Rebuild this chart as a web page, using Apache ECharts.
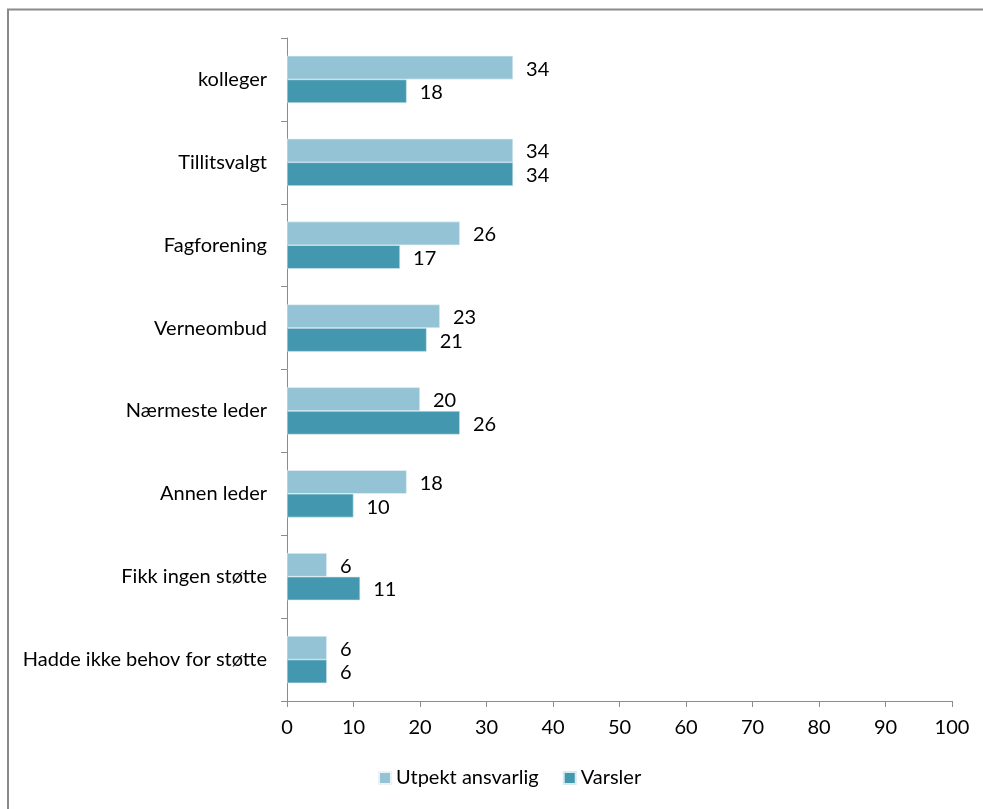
<!DOCTYPE html>
<html>
<head>
<meta charset="utf-8">
<script src="https://cdn.jsdelivr.net/npm/echarts@6/dist/echarts.min.js"></script>
<style>
  html, body { margin: 0; padding: 0; background: #fff; }
  #chart { width: 983px; height: 809px; }
</style>
</head>
<body>
<div id="chart"></div>
<script>
// Support sources, top to bottom
const categories = [
  'kolleger',
  'Tillitsvalgt',
  'Fagforening',
  'Verneombud',
  'Nærmeste leder',
  'Annen leder',
  'Fikk ingen støtte',
  'Hadde ikke behov for støtte'
];
const utpektAnsvarlig = [34, 34, 26, 23, 20, 18, 6, 6];
const varsler = [18, 34, 17, 21, 26, 10, 11, 6];
const seriesNames = ['Utpekt ansvarlig', 'Varsler'];
const xTicks = { min: 0, max: 100, interval: 10 };

const FONT = 'Lato, "Open Sans", sans-serif';
const FS = 20;
const AXIS_GRAY = '#8c8c8c';
const colors = ['#93C3D5', '#4398AF'];

const chart = echarts.init(document.getElementById('chart'), null, { renderer: 'canvas' });

const barLabel = {
  show: true,
  position: 'right',
  distance: 13,
  offset: [0, 1.5],
  color: '#000',
  fontFamily: FONT,
  fontSize: FS
};

chart.setOption({
  animation: false,
  color: colors,
  textStyle: { fontFamily: FONT },
  grid: { left: 287, right: 31, top: 38, bottom: 108, containLabel: false },
  legend: {
    bottom: 16,
    left: 373,
    itemWidth: 12,
    itemHeight: 12,
    itemGap: 24,
    icon: 'rect',
    textStyle: { fontFamily: FONT, fontSize: FS, color: '#000' },
    data: seriesNames
  },
  xAxis: {
    type: 'value',
    min: xTicks.min,
    max: xTicks.max,
    interval: xTicks.interval,
    splitLine: { show: false },
    axisLine: { show: true, lineStyle: { color: AXIS_GRAY, width: 1 } },
    axisTick: { show: true, length: 6, lineStyle: { color: AXIS_GRAY } },
    axisLabel: { color: '#000', fontFamily: FONT, fontSize: FS, margin: 17 }
  },
  yAxis: {
    type: 'category',
    inverse: true,
    data: categories,
    axisLine: { show: true, lineStyle: { color: AXIS_GRAY, width: 1 } },
    axisTick: { show: true, length: 6, alignWithLabel: false, lineStyle: { color: AXIS_GRAY } },
    axisLabel: { color: '#000', fontFamily: FONT, fontSize: FS, margin: 20 }
  },
  series: [
    {
      name: seriesNames[0],
      type: 'bar',
      data: utpektAnsvarlig,
      barGap: '0%',
      barCategoryGap: '43%',
      itemStyle: { color: colors[0], borderColor: '#e9f3f7', borderWidth: 0.6 },
      label: barLabel
    },
    {
      name: seriesNames[1],
      type: 'bar',
      data: varsler,
      barGap: '0%',
      barCategoryGap: '43%',
      itemStyle: { color: colors[1], borderColor: '#d7eaf0', borderWidth: 0.6 },
      label: barLabel
    }
  ],
  graphic: [
    {
      type: 'polyline',
      silent: true,
      shape: { points: [[8, 809], [8, 9.5], [983, 9.5]] },
      style: { stroke: '#8a8a8a', lineWidth: 2, fill: null }
    }
  ]
});
</script>
</body>
</html>
